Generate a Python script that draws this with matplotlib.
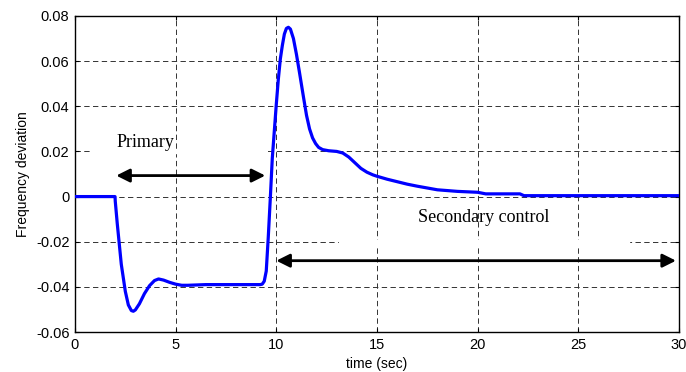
import matplotlib.pyplot as plt
from matplotlib.patches import Rectangle

# frequency deviation response
time_s = [0, 1.99, 2.0, 2.1, 2.3, 2.5, 2.65, 2.8, 2.9, 3.0, 3.2, 3.45, 3.7,
          3.95, 4.15, 4.4, 4.7, 5.0, 5.3, 5.6, 6.5, 8.0, 9.2, 9.3, 9.4, 9.5,
          9.6, 9.7, 9.8, 9.9, 10.0, 10.1, 10.2, 10.3, 10.4, 10.5, 10.6, 10.7,
          10.85, 11.0, 11.15, 11.35, 11.5, 11.65, 11.8, 11.95, 12.1, 12.3,
          12.6, 13.0, 13.3, 13.6, 13.9, 14.2, 14.5, 14.8, 15.0, 15.5, 16.0,
          16.5, 17.0, 17.5, 18.0, 19.0, 20.0, 20.4, 22.1, 22.3, 30]
freq_dev = [0, 0, -0.002, -0.012, -0.030, -0.042, -0.048, -0.0505, -0.0508,
            -0.0502, -0.0475, -0.043, -0.0395, -0.0372, -0.0365, -0.0370,
            -0.0380, -0.0388, -0.0393, -0.0393, -0.039, -0.039, -0.039,
            -0.0388, -0.0375, -0.033, -0.018, -0.001, 0.017, 0.029, 0.041,
            0.052, 0.061, 0.067, 0.072, 0.0745, 0.075, 0.0742, 0.070, 0.063,
            0.055, 0.044, 0.036, 0.030, 0.026, 0.0235, 0.0218, 0.0208, 0.0203,
            0.0200, 0.0193, 0.0175, 0.0150, 0.0125, 0.0108, 0.0096, 0.0090,
            0.0077, 0.0066, 0.0055, 0.0046, 0.0038, 0.0030, 0.0023, 0.0019,
            0.0012, 0.0012, 0.0004, 0.0004]

x_ticks = [0, 5, 10, 15, 20, 25, 30]
y_ticks = [-0.06, -0.04, -0.02, 0, 0.02, 0.04, 0.06, 0.08]
y_labels = ["-0.06", "-0.04", "-0.02", "0", "0.02", "0.04", "0.06", "0.08"]

# annotations: (start, end, y) and label positions
primary_arrow = (2.05, 9.45, 0.0093)
secondary_arrow = (10.0, 29.85, -0.0284)
primary_label = (3.5, 0.0238, "Primary")
secondary_label = (20.3, -0.0094, "Secondary control")

plt.rcParams["font.family"] = ["Liberation Sans", "DejaVu Sans"]

fig = plt.figure(figsize=(6.86, 3.72), dpi=100)
ax = fig.add_axes([0.1093, 0.1075, 0.8805, 0.8495])

ax.plot(time_s, freq_dev, color="#0000ff", linewidth=2.3, zorder=3)

ax.set_xlim(0, 30)
ax.set_ylim(-0.06, 0.08)
ax.set_xticks(x_ticks)
ax.set_yticks(y_ticks)
ax.set_yticklabels(y_labels)
ax.tick_params(direction="in", length=3, top=True, right=True, labelsize=10.5,
               pad=4)
ax.grid(True, color="#333333", linestyle=(0, (5.5, 3.5)), linewidth=0.7)
for side in ax.spines.values():
    side.set_linewidth(1.0)

# white gaps in the grid behind the labels, as in the original
ax.add_patch(Rectangle((0.9, 0.0192), 8.5, 0.0016, color="white", zorder=2))
ax.add_patch(Rectangle((13.1, -0.0208), 14.4, 0.0016, color="white", zorder=2))

arrow_props = dict(arrowstyle="<|-|>", color="black", lw=2.0, mutation_scale=20,
                   shrinkA=0, shrinkB=0)
ax.annotate("", xy=(primary_arrow[1], primary_arrow[2]),
            xytext=(primary_arrow[0], primary_arrow[2]), arrowprops=arrow_props,
            zorder=4)
ax.annotate("", xy=(secondary_arrow[1], secondary_arrow[2]),
            xytext=(secondary_arrow[0], secondary_arrow[2]),
            arrowprops=arrow_props, zorder=4)

serif = ["Liberation Serif", "DejaVu Serif"]
ax.text(primary_label[0], primary_label[1], primary_label[2], family=serif,
        fontsize=13, ha="center", va="center")
ax.text(secondary_label[0], secondary_label[1], secondary_label[2],
        family=serif, fontsize=13, ha="center", va="center")

ax.set_xlabel("time (sec)", fontsize=10, labelpad=4)
ax.set_ylabel("Frequency deviation", fontsize=10, labelpad=4)

fig.savefig("out.png", dpi=100)
